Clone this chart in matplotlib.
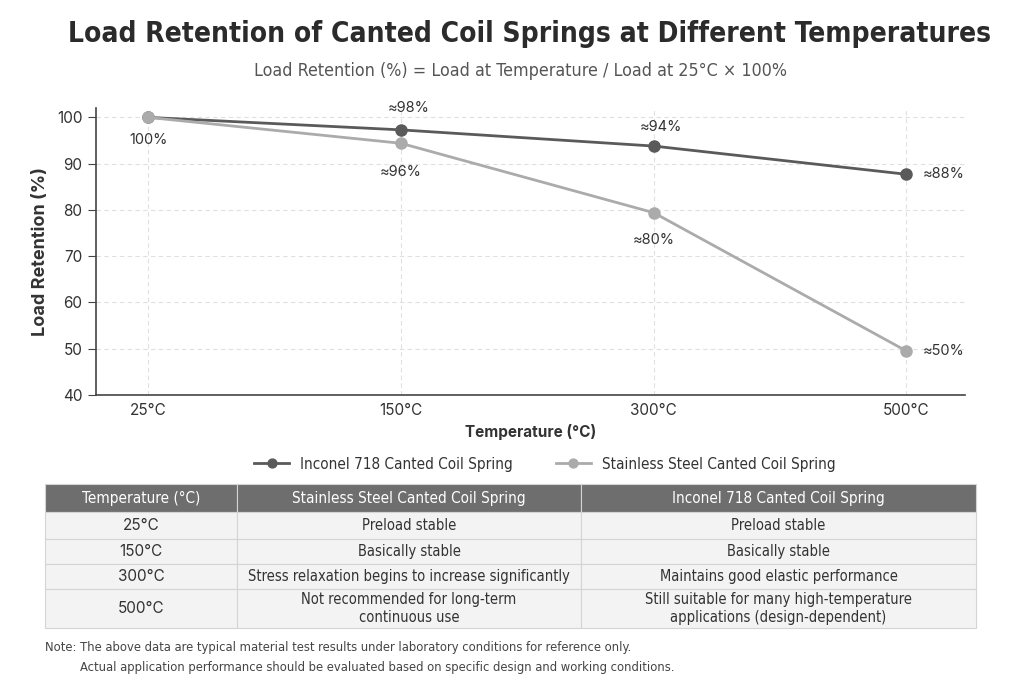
import matplotlib.pyplot as plt
import numpy as np

temps = ['25°C', '150°C', '300°C', '500°C']
inconel = [100, 97.3, 93.8, 87.7]
stainless = [100, 94.4, 79.4, 49.5]
inconel_labels = ['', '≈98%', '≈94%', '≈88%']
stainless_labels = ['100%', '≈96%', '≈80%', '≈50%']

table_header = ['Temperature (°C)', 'Stainless Steel Canted Coil Spring', 'Inconel 718 Canted Coil Spring']
table_temps = ['25°C', '150°C', '300°C', '500°C']
table_ss = ['Preload stable', 'Basically stable',
            'Stress relaxation begins to increase significantly',
            'Not recommended for long-term\ncontinuous use']
table_in = ['Preload stable', 'Basically stable', 'Maintains good elastic performance',
            'Still suitable for many high-temperature\napplications (design-dependent)']

body = ['Inter', 'DejaVu Sans']
plt.rcParams['font.family'] = body
cond = dict(family='DejaVu Sans', stretch='condensed')

dark = '#5a5a5a'
light = '#ababab'
txt = '#333333'

fig = plt.figure(figsize=(10.24, 6.83), dpi=100)
fig.patch.set_facecolor('white')

fig.text(0.517, 0.950, 'Load Retention of Canted Coil Springs at Different Temperatures',
         ha='center', va='center', fontsize=20.2, fontweight='bold', color='#2b2b2b', **cond)
fig.text(0.508, 0.896, 'Load Retention (%) = Load at Temperature / Load at 25°C × 100%',
         ha='center', va='center', fontsize=12.8, color='#555555', **cond)

ax = fig.add_axes([0.094, 0.4217, 0.848, 0.420])
x = np.arange(len(temps))
ax.plot(x, inconel, color=dark, lw=2, marker='o', ms=8, label='Inconel 718 Canted Coil Spring', zorder=3)
ax.plot(x, stainless, color=light, lw=2, marker='o', ms=8, label='Stainless Steel Canted Coil Spring', zorder=3)

ax.set_xlim(-0.205, 3.23)
ax.set_ylim(40, 102)
ax.set_xticks(x)
ax.set_xticklabels(temps)
ax.set_yticks(range(40, 101, 10))
ax.tick_params(axis='both', labelsize=11, colors=txt, length=0, pad=6)
ax.tick_params(axis='y', length=6, color='#444444', pad=4)
for s in ['top', 'right']:
    ax.spines[s].set_visible(False)
for s in ['left', 'bottom']:
    ax.spines[s].set_color('#444444')
    ax.spines[s].set_linewidth(1.2)
ax.grid(True, ls=(0, (4, 3)), color='#e0e0e0', lw=0.8)
ax.set_axisbelow(True)
ax.set_ylabel('Load Retention (%)', fontsize=13, fontweight='bold', color=txt, labelpad=6)
ax.set_xlabel('Temperature (°C)', fontsize=11, fontweight='bold', color=txt, labelpad=4)

# value labels
offs_in = [(0, 0), (6, 16), (5, 14), (11.5, 0)]
offs_ss = [(0, -16), (0, -21), (0, -20), (11.5, 0)]
for i in range(len(temps)):
    ha = 'left' if i == 3 else 'center'
    if inconel_labels[i]:
        ax.annotate(inconel_labels[i], (x[i], inconel[i]), xytext=offs_in[i], textcoords='offset points',
                    ha=ha, va='center', fontsize=10.5, color=txt)
    ax.annotate(stainless_labels[i], (x[i], stainless[i]), xytext=offs_ss[i], textcoords='offset points',
                ha=ha, va='center', fontsize=10.5, color=txt)

leg = fig.legend(loc='center', bbox_to_anchor=(0.532, 0.3206), ncol=2, frameon=False,
                 prop=dict(size=11, **cond), columnspacing=2.8, handlelength=2.3,
                 handletextpad=0.7, markerscale=0.8)
for t in leg.get_texts():
    t.set_color(txt)

# table
tax = fig.add_axes([45 / 1024, 1 - 628 / 683, 931 / 1024, 144 / 683])
tax.axis('off')
cells = [[a, b, c] for a, b, c in zip(table_temps, table_ss, table_in)]
tbl = tax.table(cellText=cells, colLabels=table_header, colWidths=[192, 344, 395],
                cellLoc='center', bbox=[0, 0, 1, 1])
tbl.auto_set_font_size(False)
heights = [28, 27, 25, 25, 39]
for (r, c), cell in tbl.get_celld().items():
    cell.set_height(heights[r])
    cell.set_edgecolor('#d4d4d4')
    cell.set_linewidth(0.8)
    t = cell.get_text()
    t.set_family('DejaVu Sans')
    t.set_stretch('condensed')
    if r == 0:
        cell.set_facecolor('#6e6e6e')
        t.set_color('white')
        t.set_fontsize(11)
    else:
        cell.set_facecolor('#f3f3f3')
        t.set_color(txt)
        t.set_fontsize(10.5)
        if c == 0:
            t.set_family(body)
            t.set_stretch('normal')
            t.set_fontsize(11)

fig.text(45 / 1024, 1 - 648 / 683, 'Note: The above data are typical material test results under laboratory conditions for reference only.',
         ha='left', va='center', fontsize=9.3, color='#444444', **cond)
fig.text(80 / 1024, 1 - 667 / 683, 'Actual application performance should be evaluated based on specific design and working conditions.',
         ha='left', va='center', fontsize=9.3, color='#444444', **cond)

fig.savefig('out.png', dpi=100, facecolor='white')
